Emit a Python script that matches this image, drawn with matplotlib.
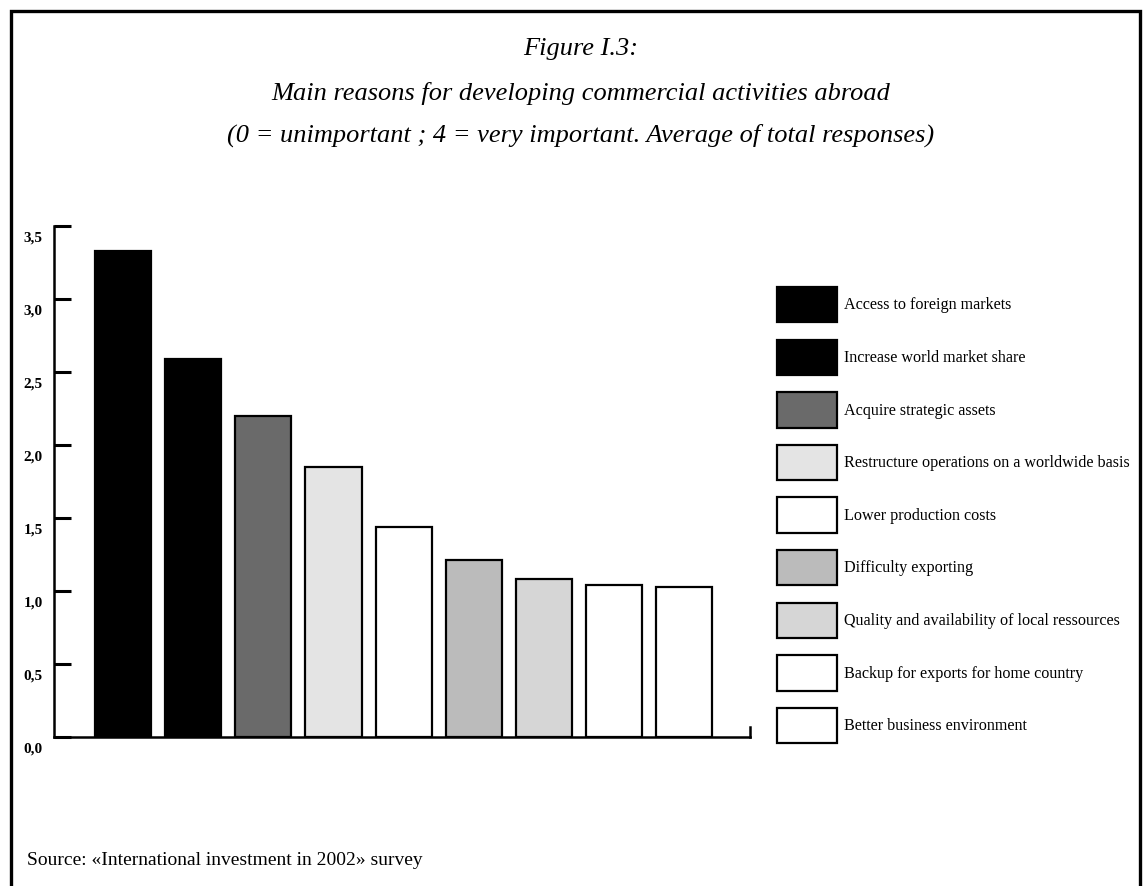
import matplotlib
matplotlib.use("Agg")
import matplotlib.pyplot as plt
import matplotlib.transforms as mtransforms
from matplotlib.patches import Rectangle

# Data
reasons = [
    "Access to foreign markets",
    "Increase world market share",
    "Acquire strategic assets",
    "Restructure operations on a worldwide basis",
    "Lower production costs",
    "Difficulty exporting",
    "Quality and availability of local ressources",
    "Backup for exports for home country",
    "Better business environment",
]
scores = [3.33, 2.59, 2.20, 1.85, 1.44, 1.21, 1.08, 1.04, 1.03]
fills = ["#000000", "#000000", "#6a6a6a", "#e4e4e4", "#ffffff",
         "#bbbbbb", "#d6d6d6", "#ffffff", "#ffffff"]
yticks = [0.0, 0.5, 1.0, 1.5, 2.0, 2.5, 3.0, 3.5]
ytick_labels = ["0,0", "0,5", "1,0", "1,5", "2,0", "2,5", "3,0", "3,5"]

serif = ["Liberation Serif", "DejaVu Serif"]
plt.rcParams["font.family"] = serif

W, H = 1143, 886
fig = plt.figure(figsize=(W / 100, H / 100), dpi=100)

# page frame (bottom edge falls outside the scan)
fig.patches.append(Rectangle((11 / W, -0.03), 1129 / W, 1.03 - 11 / H,
                             transform=fig.transFigure, fill=False,
                             edgecolor="black", linewidth=2.4))

ax = fig.add_axes([54 / W, 1 - 737 / H, 696 / W, 511 / H])
x = list(range(len(scores)))
bars = ax.bar(x, scores, width=0.8, color=fills, edgecolor="black", linewidth=1.6)

ax.set_ylim(0, 3.5)
ax.set_xlim(-0.986, 8.94)
ax.set_xticks([])
ax.set_yticks(yticks)
ax.set_yticklabels(ytick_labels, fontsize=11, fontweight="bold")
ax.tick_params(axis="y", direction="in", length=12, width=2.2, pad=8)
for lab in ax.get_yticklabels():
    lab.set_transform(lab.get_transform() +
                      mtransforms.ScaledTranslation(0, -11 / 100, fig.dpi_scale_trans))

ax.spines["top"].set_visible(False)
ax.spines["right"].set_bounds(0, 0.07)
for s in ["left", "bottom", "right"]:
    ax.spines[s].set_linewidth(1.8)

leg = fig.legend(bars, reasons, loc="upper left",
                 bbox_to_anchor=(777 / W, 1 - 287 / H), frameon=False,
                 fontsize=11.6, handlelength=3.75, handleheight=3.0,
                 labelspacing=1.07, handletextpad=0.43, borderpad=0,
                 borderaxespad=0)

cx = 581 / W
fig.text(cx, 1 - 55 / H, "Figure I.3:", ha="center", va="baseline",
         fontsize=19, style="italic")
fig.text(cx, 1 - 100 / H, "Main reasons for developing commercial activities abroad",
         ha="center", va="baseline", fontsize=19, style="italic")
fig.text(cx, 1 - 142 / H,
         "(0 = unimportant ; 4 = very important. Average of total responses)",
         ha="center", va="baseline", fontsize=19, style="italic")
fig.text(27 / W, 1 - 865 / H, "Source: «International investment in 2002» survey",
         ha="left", va="baseline", fontsize=14)

fig.savefig("out.png", dpi=100)
